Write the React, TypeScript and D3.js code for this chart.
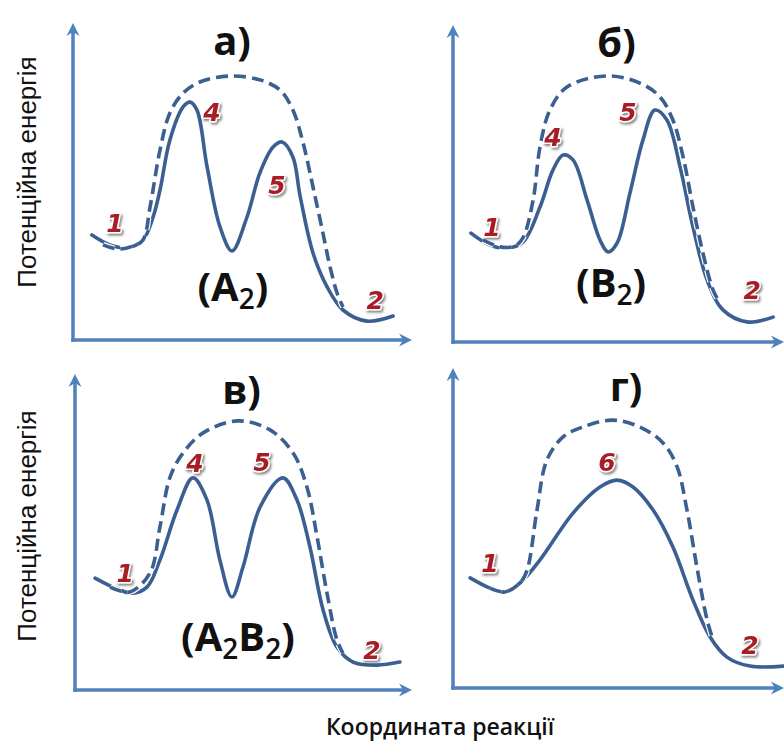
import React from 'react';
import * as d3 from 'd3';

type P = [number, number];
type Mark = [string, number, number];

// Reaction coordinate (x: 0..110) / potential energy (y: 0..105) — per panel
const titles = ['а)', 'б)', 'в)', 'г)'];
const titlePos: P[] = [[53, 95], [54.5, 95], [55.5, 95.3], [57.7, 95.7]];
const molecules = ['(A2)', '(B2)', '(A2B2)', ''];
const moleculePos: P[] = [[53.3, 17.7], [52.7, 19.7], [54.3, 17.7], [0, 0]];

const solidA: P[] = [
  [6.3, 35], [12.3, 31.7], [18, 30.7], [23.3, 33.3], [26.7, 41], [29, 50], [32.3, 66.7], [36.7, 77.7],
  [39, 79.3], [41.3, 76.7], [44.7, 57.7], [49, 37.7], [53, 29.7], [58, 41], [62.3, 55.7], [66.7, 64.3],
  [69.7, 66], [73.3, 61], [75.7, 48], [80, 29], [84.7, 17.7], [90, 10], [98, 6.3], [106.7, 8],
];
const dashedA: P[] = [
  [10, 31.7], [15, 30.3], [20, 31.3], [23.3, 33.3], [25.7, 44.4], [29, 63.3], [32.3, 75.7], [36.7, 82.3],
  [42.3, 86], [52.3, 88], [62.3, 86.7], [69, 83.3], [73.3, 76.7], [76.7, 65.7], [80, 51], [83.3, 35.7],
  [85.7, 24.3], [88, 15.7], [90, 11],
];
const solidB: P[] = [
  [6, 36.3], [12.3, 32.3], [18, 31.3], [23.3, 33.3], [29, 45], [33.3, 57.3], [36.7, 62.3], [40, 60.7],
  [44.7, 47.3], [49, 34], [51.7, 30], [54.7, 33], [59, 49.7], [63.3, 67.3], [67.3, 77.3], [71.3, 74],
  [75.7, 58.3], [80, 38.3], [84.7, 20.7], [90, 10.7], [98, 6.7], [106.7, 8.3],
];
const dashedB: P[] = [
  [10, 34], [15.7, 31.7], [20.7, 32], [23.3, 34.7], [26.7, 47.3], [29, 65], [32.3, 77.3], [38, 85],
  [51.3, 88.7], [62.3, 86.3], [69, 81.7], [73.3, 74], [76.7, 61.7], [80, 45], [83.3, 29.7], [86.7, 17.3],
  [89, 13],
];
const solidV: P[] = [
  [6.7, 37.3], [12.7, 34.3], [19, 32.3], [24, 34.3], [28.3, 43.3], [34, 60], [39.3, 70.7], [44, 63.3],
  [48.3, 43.3], [52.3, 31], [56, 41], [61.7, 61], [69.3, 70.7], [74, 63.3], [78.3, 47.7], [82.7, 26.7],
  [87.3, 14.3], [92.7, 9.3], [100.7, 8.3], [108.3, 9.3],
];
const dashedV: P[] = [
  [11.7, 34.3], [18.3, 32.7], [25, 39], [28.3, 54.3], [31.7, 71], [36, 79], [42.7, 85.7], [54.3, 89.7],
  [65, 86.7], [72.7, 79], [77.3, 67.7], [80.7, 51], [84, 32.3], [87.3, 16.7], [89.3, 12.3],
];
const solidG: P[] = [
  [5.7, 36.7], [12.3, 33.3], [17.3, 32], [22.3, 35], [29, 42.7], [40, 58.3], [49, 67], [54.7, 69.3],
  [60, 67], [66.7, 59.3], [73.3, 47], [80, 29.3], [85.7, 17], [91.3, 10.3], [99, 7.3], [110, 7.3],
];
const dashedG: P[] = [
  [12.3, 33.3], [17.3, 32], [22.3, 35], [24.7, 39.3], [28, 59.3], [31.3, 76], [36.7, 83.7], [43.3, 87],
  [53, 89.3], [62.3, 87], [70, 81.7], [74.7, 73.7], [78, 59.3], [81.3, 40.3], [84.7, 22.7], [86.7, 16],
];

const marksA: Mark[] = [['1', 14, 39], ['4', 46.3, 76], ['5', 68, 51.7], ['2', 100.7, 13.3]];
const marksB: Mark[] = [['1', 13, 38.3], ['4', 33.3, 68.3], ['5', 58.3, 76.7], ['2', 99.7, 17.3]];
const marksV: Mark[] = [['1', 16.7, 39], ['4', 40, 75.7], ['5', 62.3, 76], ['2', 99, 13.3]];
const marksG: Mark[] = [['1', 12.3, 41.7], ['6', 51.3, 75.3], ['2', 99, 14.3]];

const solids = [solidA, solidB, solidV, solidG];
const dasheds = [dashedA, dashedB, dashedV, dashedG];
const marks = [marksA, marksB, marksV, marksG];

const yLabel = 'Потенційна енергія';
const xLabel = 'Координата реакції';

// layout (pixels)
const layout = [
  { ox: 73, oy: 340, xEnd: 412, yTop: 23 },
  { ox: 453, oy: 342, xEnd: 784, yTop: 25 },
  { ox: 75, oy: 690, xEnd: 412, yTop: 374 },
  { ox: 453, oy: 688, xEnd: 784, yTop: 368 },
];

const AXIS = '#4f81bd';
const CURVE = '#3b5f91';
const RED = '#a81f27';

function Molecule({ text, x, y }: { text: string; x: number; y: number }) {
  const parts = text.match(/[^0-9]+|[0-9]+/g) || [];
  return (
    <text x={x} y={y} textAnchor="middle" dy="0.35em" fontFamily="'Open Sans', sans-serif" fontWeight={700} fontSize={40} fill="#111">
      {parts.map((p, i) =>
        /[0-9]/.test(p) ? (
          <tspan key={i} fontSize={28} fontWeight={600} dy="0.3em">{p}</tspan>
        ) : (
          <tspan key={i} dy={i > 0 && /[0-9]/.test(parts[i - 1]) ? '-0.21em' : undefined}>{p}</tspan>
        )
      )}
    </text>
  );
}

function Panel({ idx }: { idx: number }) {
  const L = layout[idx];
  const x = d3.scaleLinear().domain([0, 110]).range([L.ox, L.ox + 330]);
  const y = d3.scaleLinear().domain([0, 105]).range([L.oy, L.oy - 315]);
  const line = d3.line<P>().x(d => x(d[0])).y(d => y(d[1])).curve(d3.curveCatmullRom.alpha(0.5));
  const ah = 13, aw = 6.5, notch = 9;
  return (
    <g>
      {/* axes */}
      <line x1={L.ox} y1={L.oy + 1.75} x2={L.ox} y2={L.yTop + notch} stroke={AXIS} strokeWidth={3.5} />
      <path d={`M${L.ox},${L.yTop} L${L.ox + aw},${L.yTop + ah} L${L.ox},${L.yTop + notch} L${L.ox - aw},${L.yTop + ah} Z`} fill={AXIS} />
      <line x1={L.ox - 1.75} y1={L.oy} x2={L.xEnd - notch} y2={L.oy} stroke={AXIS} strokeWidth={3.5} />
      <path d={`M${L.xEnd},${L.oy} L${L.xEnd - ah},${L.oy - aw} L${L.xEnd - notch},${L.oy} L${L.xEnd - ah},${L.oy + aw} Z`} fill={AXIS} />
      {/* title */}
      <text x={x(titlePos[idx][0])} y={y(titlePos[idx][1])} textAnchor="middle" fontFamily="'Open Sans', sans-serif" fontWeight={700} fontSize={40} fill="#111">{titles[idx]}</text>
      {/* curves */}
      <path d={line(solids[idx]) || ''} fill="none" stroke={CURVE} strokeWidth={3.6} strokeLinecap="round" />
      <path d={line(dasheds[idx]) || ''} fill="none" stroke="#fff" strokeWidth={6} strokeDasharray="12 6" />
      <path d={line(dasheds[idx]) || ''} fill="none" stroke={CURVE} strokeWidth={3.6} strokeDasharray="12 6" />
      {molecules[idx] && <Molecule text={molecules[idx]} x={x(moleculePos[idx][0])} y={y(moleculePos[idx][1])} />}
      {marks[idx].map((m, i) => (
        <text key={i} x={x(m[1])} y={y(m[2])} dy="0.36em" textAnchor="middle" fontFamily="'DejaVu Sans', sans-serif"
          fontWeight="bold" fontStyle="italic" fontSize={25} fill={RED} stroke="#fff" strokeWidth={3}
          paintOrder="stroke" strokeLinejoin="round" filter="url(#lblShadow)">{m[0]}</text>
      ))}
    </g>
  );
}

export default function App() {
  return (
    <svg width={784} height={742} viewBox="0 0 784 742" style={{ position: 'absolute', left: 0, top: 0, background: '#fff' }}>
      <defs>
        <filter id="lblShadow" x="-50%" y="-50%" width="200%" height="200%">
          <feDropShadow dx={1.5} dy={2} stdDeviation={1.2} floodColor="#444" floodOpacity={0.65} />
        </filter>
      </defs>
      <rect width={784} height={742} fill="#fff" />
      {[0, 1, 2, 3].map(i => <Panel key={i} idx={i} />)}
      <text transform="translate(36,172) rotate(-90)" textAnchor="middle" fontFamily="'Liberation Sans', Arial, sans-serif" fontSize={26} fill="#111">{yLabel}</text>
      <text transform="translate(36,526) rotate(-90)" textAnchor="middle" fontFamily="'Liberation Sans', Arial, sans-serif" fontSize={26} fill="#111">{yLabel}</text>
      <text x={440} y={735} textAnchor="middle" fontFamily="'Open Sans', sans-serif" fontWeight={600} fontSize={23} fill="#111">{xLabel}</text>
    </svg>
  );
}
